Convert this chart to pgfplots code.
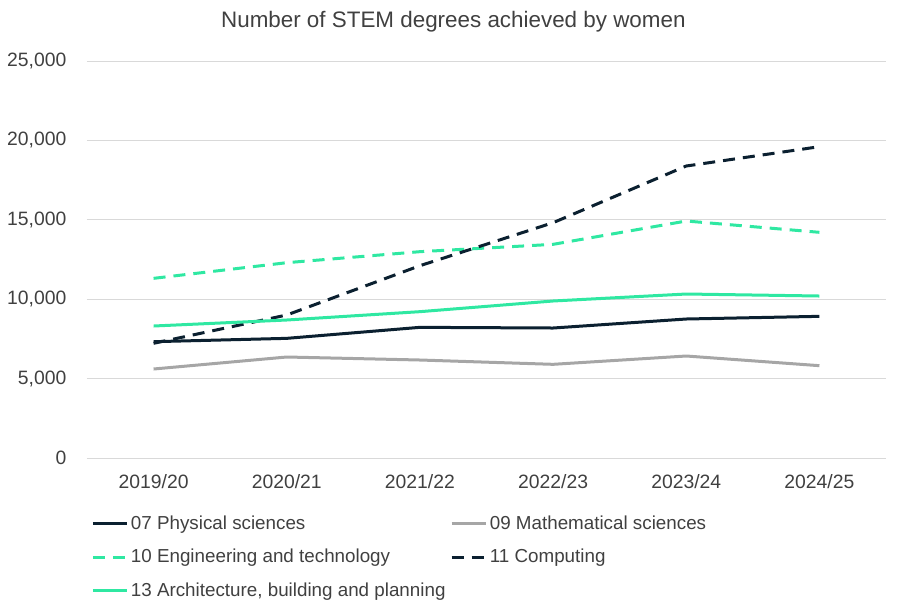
\documentclass[border=0pt]{standalone}
\usepackage{pgfplots}
\pgfplotsset{compat=1.18}
\usepackage{fontspec}
\setmainfont{Liberation Sans}
\definecolor{navy}{HTML}{0B2030}
\definecolor{mint}{HTML}{2FE8A2}
\definecolor{greyl}{HTML}{A6A6A6}
\definecolor{txt}{HTML}{404040}
\definecolor{gridc}{HTML}{D9D9D9}
\begin{document}
\begin{tikzpicture}[x=1pt,y=1pt]
\useasboundingbox (0,0) rectangle (674.25,459);
\begin{axis}[
  at={(65.25pt,115.5pt)}, anchor=south west,
  scale only axis, width=599.25pt, height=297.75pt,
  xmin=-0.5, xmax=5.5, ymin=0, ymax=25000,
  xtick={0,1,2,3,4,5},
  xticklabels={2019/20,2020/21,2021/22,2022/23,2023/24,2024/25},
  ytick={0,5000,10000,15000,20000,25000},
  scaled y ticks=false,
  ymajorgrids, grid style={gridc, line width=0.75pt},
  axis line style={draw=none},
  major tick length=0pt,
  clip=false,
  tick label style={font=\fontsize{14.5}{16}\selectfont, text=txt},
  /pgf/number format/assume math mode=true,
  /pgf/number format/1000 sep={,},
  yticklabel style={xshift=-12pt},
  xticklabel style={yshift=-9pt},
  legend columns=2,
  legend cell align=left,
  legend style={at={(axis description cs:0,0)}, anchor=north west,
    xshift=0pt, yshift=-39.5pt, draw=none, fill=none,
    font=\fontsize{14.1}{16}\selectfont, text=txt,
    nodes={inner sep=1.5pt},
    row sep=10.5pt,
    /tikz/every even column/.append style={column sep=2pt}},
  legend image code/.code={\draw[#1] (0pt,0pt) -- (26pt,0pt);},
  every axis plot/.append style={line width=2.25pt, line join=round},
]
\addplot[navy] coordinates {(0,7325) (1,7535) (2,8228) (3,8186) (4,8753) (5,8921)};
\addlegendentry{07 Physical sciences}
\addplot[greyl] coordinates {(0,5604) (1,6360) (2,6171) (3,5899) (4,6423) (5,5814)};
\addlegendentry{09 Mathematical sciences}
\addplot[mint, dash pattern=on 9pt off 6pt] coordinates {(0,11314) (1,12300) (2,12993) (3,13455) (4,14924) (5,14212)};
\addlegendentry{10 Engineering and technology}
\addplot[navy, dash pattern=on 9pt off 6pt] coordinates {(0,7223) (1,9005) (2,12110) (3,14818) (4,18388) (5,19605)};
\addlegendentry{11 Computing}
\addplot[mint] coordinates {(0,8312) (1,8690) (2,9215) (3,9887) (4,10327) (5,10201)};
\addlegendentry{13 Architecture, building and planning}
\end{axis}
\node[font=\fontsize{16.8}{19}\selectfont, text=txt] at (340,442.5) {Number of STEM degrees achieved by women};
\end{tikzpicture}
\end{document}
